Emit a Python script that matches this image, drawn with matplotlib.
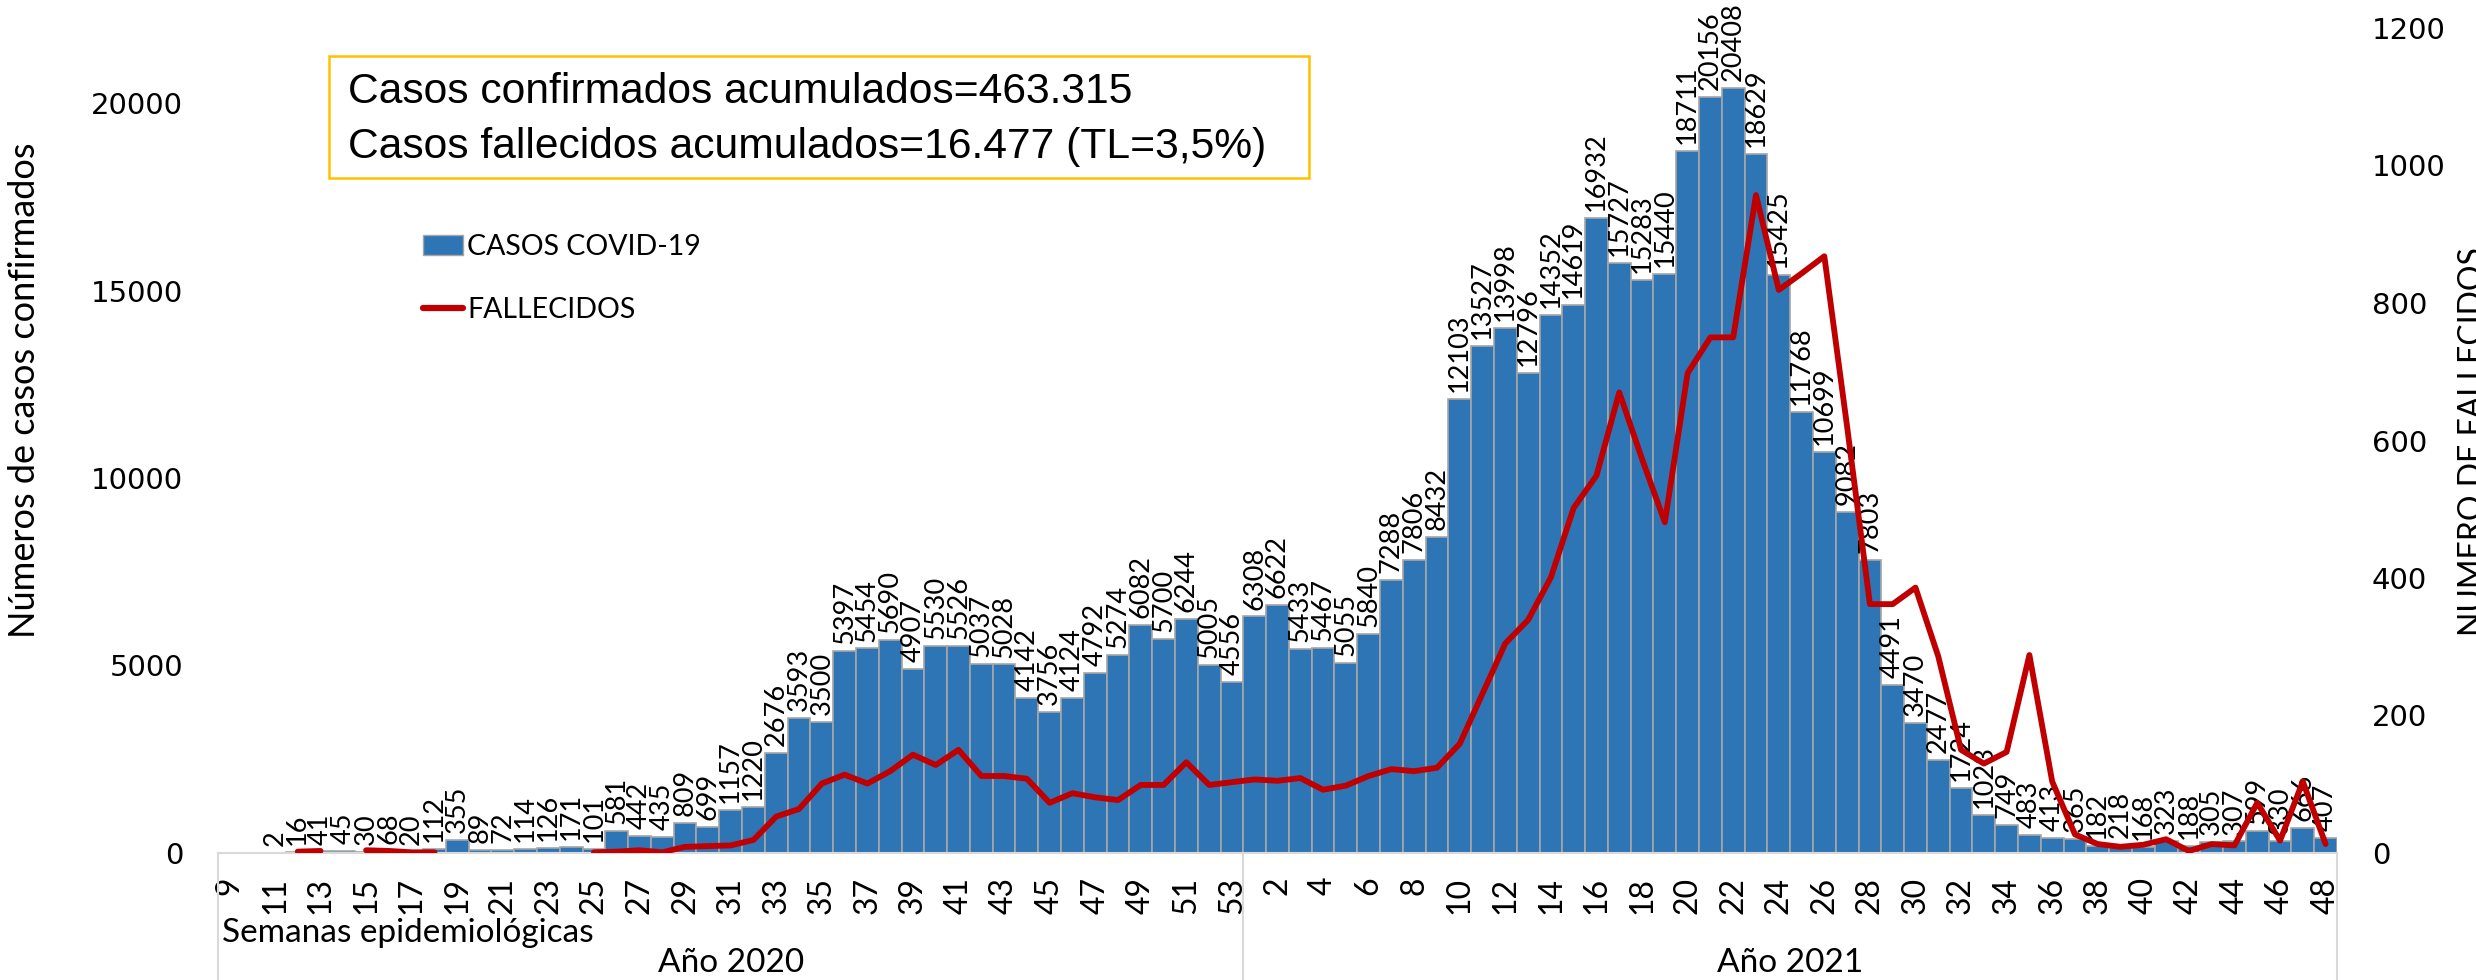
import numpy as np
import matplotlib
matplotlib.use('Agg')
import matplotlib.pyplot as plt
import matplotlib.transforms as mtransforms
from matplotlib.patches import Patch, Rectangle
from matplotlib.lines import Line2D

# epidemiological weeks
weeks_2020 = list(range(9, 54))
weeks_2021 = list(range(1, 49))

# confirmed cases per week (None = no data)
cases_2020 = [None, None, 2, 16, 41, 45, 30, 68, 20, 112, 355, 89, 72, 114, 126, 171, 101,
              581, 442, 435, 809, 699, 1157, 1220, 2676, 3593, 3500, 5397, 5454, 5690, 4907,
              5530, 5526, 5037, 5028, 4142, 3756, 4124, 4792, 5274, 6082, 5700, 6244, 5005, 4556]
cases_2021 = [6308, 6622, 5433, 5467, 5055, 5840, 7288, 7806, 8432, 12103, 13527, 13998, 12796,
              14352, 14619, 16932, 15727, 15283, 15440, 18711, 20156, 20408, 18629, 15425, 11768,
              10699, 9082, 7803, 4491, 3470, 2477, 1724, 1023, 749, 483, 413, 365, 182, 218, 168,
              323, 188, 305, 307, 599, 330, 666, 407]

# deaths per week (None = not plotted)
deaths_2020 = [None, None, None, 2, 3, None, 4, 3, 1, 1, None, None, None, None, None, None, 1,
               2, 4, 1, 9, 10, 11, 19, 53, 64, 101, 114, 101, 119, 143, 128, 150, 112, 112, 108,
               73, 87, 81, 77, 99, 99, 132, 99, 103]
deaths_2021 = [107, 105, 109, 92, 98, 112, 122, 119, 124, 159, 232, 305, 339, 401, 502, 549, 670,
               573, 481, 698, 750, 750, 957, 819, 843, 868, 620, 362, 362, 386, 286, 150, 130, 147,
               288, 104, 27, 13, 9, 12, 20, 3, 13, 11, 73, 18, 104, 13]

week_labels = [str(w) for w in weeks_2020 + weeks_2021]
cases = np.array([np.nan if v is None else v for v in cases_2020 + cases_2021], dtype=float)
deaths = np.array([np.nan if v is None else v for v in deaths_2020 + deaths_2021], dtype=float)
x = np.arange(len(week_labels))

W, H = 2476, 980
fig = plt.figure(figsize=(W / 100, H / 100), dpi=100)
ax = fig.add_axes([218 / W, 127 / H, (2337 - 218) / W, (853 - 28) / H])

# bars
bars = ax.bar(x, np.nan_to_num(cases), width=1.0, color='#2E75B6', edgecolor='#A6A6A6', linewidth=1.2)
bar_txt = ['' if v is None else str(v) for v in cases_2020 + cases_2021]
ax.bar_label(bars, labels=bar_txt, rotation=90, padding=5, fontsize=19.5, family='Lato')

ax.set_xlim(-0.5, len(x) - 0.5)
ax.set_ylim(0, 22000)
ax.set_yticks(range(0, 20001, 5000))
ax.set_xticks(x[::2])
ax.set_xticklabels(week_labels[::2], rotation=90, fontsize=23, family='Lato')
ax.tick_params(axis='x', length=0, pad=17)
ax.tick_params(axis='y', length=0, pad=25, labelsize=21)
for s in ['top', 'left', 'right']:
    ax.spines[s].set_visible(False)
ax.spines['bottom'].set_color('#D9D9D9')
ax.spines['bottom'].set_linewidth(1.5)

# deaths line
ax2 = ax.twinx()
ax2.plot(x, deaths, color='#C00000', lw=4.2, solid_joinstyle='round', solid_capstyle='round')
ax2.set_ylim(0, 1200)
ax2.set_yticks(range(0, 1201, 200))
ax2.tick_params(axis='y', length=0, pad=25, labelsize=21)
for s in ax2.spines.values():
    s.set_visible(False)

# category separators under the axis
trans = mtransforms.blended_transform_factory(ax.transData, ax.transAxes)
n20 = len(weeks_2020)
for xs in [-0.5, n20 - 0.5, len(x) - 0.5]:
    ax.plot([xs, xs], [0, -0.2], transform=trans, color='#D9D9D9', lw=1.5, clip_on=False)
ax.text((n20 - 1) / 2, -0.1333, 'Año 2020', transform=trans, ha='center', va='center',
        fontsize=24, family='Lato')
ax.text((n20 + len(x) - 1) / 2, -0.1333, 'Año 2021', transform=trans, ha='center', va='center',
        fontsize=24, family='Lato')
fig.text(222 / W, 1 - 933 / H, 'Semanas epidemiológicas', ha='left', va='center',
         fontsize=24, family='Lato')

# axis titles
fig.text(25 / W, 1 - 390 / H, 'Números de casos confirmados', rotation=90, ha='center',
         va='center', fontsize=26, family='Lato')
fig.text(2458 / W, 1 - 442 / H, 'NUMERO DE FALLECIDOS', rotation=90, ha='left',
         va='center', fontsize=23, family='Lato')

# summary box
fig.patches.append(Rectangle((329 / W, 1 - 178 / H), (1309 - 329) / W, (178 - 56) / H,
                             transform=fig.transFigure, fill=False, edgecolor='#FFC000', lw=1.8))
fig.text(348 / W, 1 - 92 / H, 'Casos confirmados acumulados=463.315', va='center',
         fontsize=30.7, family='Liberation Sans')
fig.text(348 / W, 1 - 147 / H, 'Casos fallecidos acumulados=16.477 (TL=3,5%)', va='center',
         fontsize=30.7, family='Liberation Sans')

# legend
handles = [Patch(facecolor='#2E75B6', edgecolor='#A6A6A6'),
           Line2D([0], [0], color='#C00000', lw=4.5, solid_capstyle='round')]
ax2.legend(handles, ['CASOS COVID-19', 'FALLECIDOS'], loc='upper left',
           bbox_to_anchor=(423 / W, 1 - 234 / H), bbox_transform=fig.transFigure,
           frameon=False, prop={'family': 'Lato', 'size': 20.5}, handlelength=1.4,
           handletextpad=0.15, labelspacing=1.3, borderpad=0, borderaxespad=0)

fig.savefig('out.png', dpi=100)
